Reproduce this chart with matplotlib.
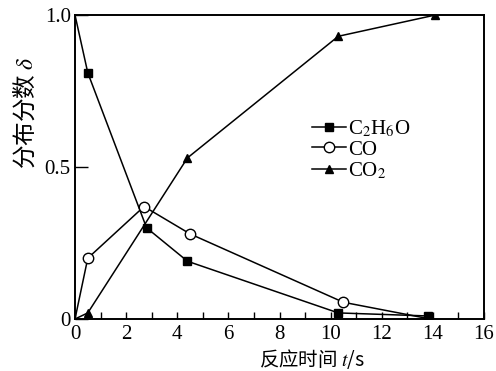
"""
Distribution fraction vs reaction time for C2H6O, CO, CO2.
"""
import matplotlib
matplotlib.use("Agg")
import matplotlib.pyplot as plt
from matplotlib.ticker import MultipleLocator

plt.rcParams["font.family"] = ["Liberation Serif", "DejaVu Serif"]
plt.rcParams["mathtext.fontset"] = "stix"

# values
t_c2h6o = [0, 0.5, 2.8, 4.4, 10.3, 13.8]
d_c2h6o = [1.0, 0.81, 0.30, 0.19, 0.02, 0.01]

t_co = [0, 0.5, 2.7, 4.5, 10.5, 13.9]
d_co = [0.0, 0.20, 0.37, 0.28, 0.055, 0.0]

t_co2 = [0, 0.5, 4.4, 10.3, 14.1]
d_co2 = [0.0, 0.02, 0.53, 0.93, 1.0]

labels = [r"C$_2$H$_6$O", "CO", r"CO$_2$"]
xticks = [0, 2, 4, 6, 8, 10, 12, 14, 16]
yticks = [0, 0.5, 1.0]
yticklabels = ["0", "0.5", "1.0"]

cjk = ["Noto Sans CJK SC", "DejaVu Sans"]

fig = plt.figure(figsize=(4.96, 3.71), dpi=100)
ax = fig.add_axes([75 / 496, 52 / 371, 409 / 496, 304 / 371])

lw = 1.1
# first point sits on the axis without a marker
ax.plot(t_c2h6o, d_c2h6o, "k-", lw=lw, marker="s", ms=6, mfc="black",
        markevery=list(range(1, len(t_c2h6o))), label=labels[0])
ax.plot(t_co, d_co, "k-", lw=lw, marker="o", ms=7.5, mfc="white", mew=1.0,
        markevery=list(range(1, len(t_co) - 1)), label=labels[1])
ax.plot(t_co2, d_co2, "k-", lw=lw, marker="^", ms=6, mfc="black",
        markevery=list(range(1, len(t_co2))), label=labels[2])

ax.set_xlim(0, 16)
ax.set_ylim(0, 1.0)
ax.set_xticks(xticks)
ax.xaxis.set_minor_locator(MultipleLocator(1))
ax.set_yticks(yticks)
ax.set_yticklabels(yticklabels)
ax.tick_params(axis="x", which="both", direction="in", length=5, width=1.0,
               labelsize=15, pad=4)
ax.tick_params(axis="y", which="major", direction="in", length=9, width=1.0,
               labelsize=15, pad=3)
ax.tick_params(axis="y", which="minor", left=False)
for s in ax.spines.values():
    s.set_linewidth(1.4)

ax.set_xlabel(r"反应时间 $t$/s", family=cjk, fontsize=14)
ax.xaxis.set_label_coords(0.58, -0.092)
ax.set_ylabel(r"分布分数 $\delta$", family=cjk, fontsize=17)
ax.yaxis.set_label_coords(-0.09, 0.68)

ax.legend(loc="upper left", bbox_to_anchor=(0.58, 0.66), frameon=False,
          fontsize=15, handlelength=1.6, handletextpad=0.1, labelspacing=0.05,
          borderpad=0, borderaxespad=0)

fig.savefig("out.png", dpi=100)
